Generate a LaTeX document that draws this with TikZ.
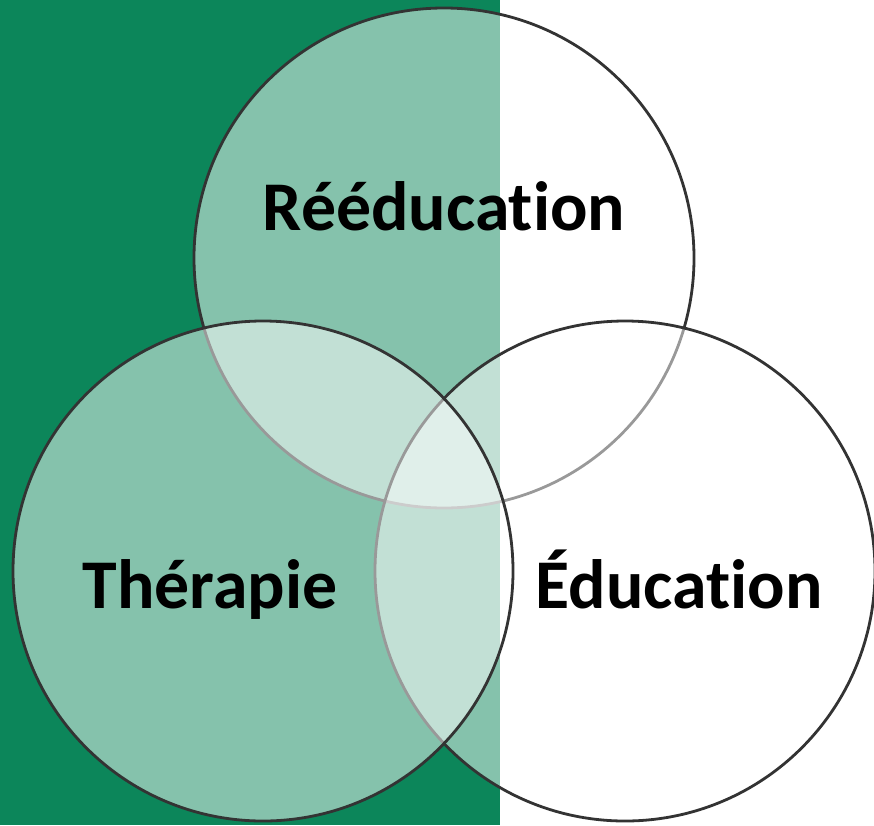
\documentclass[tikz,border=0pt]{standalone}
\usepackage{fontspec}
\setmainfont{Carlito}[Ligatures={NoCommon}]
\definecolor{pine}{HTML}{0C865A}
\definecolor{rim}{HTML}{333333}
\begin{document}
\begin{tikzpicture}[x=1pt,y=-1pt,
		ring/.style={draw=rim,line width=2.8pt,fill=white,fill opacity=.5},
		word/.style={anchor=base,text=black,font=\fontsize{69.8}{80}\selectfont\bfseries}]
		\useasboundingbox (0,0) rectangle (874,825);
		\fill [pine] (0,0) rectangle (500,825);
		% top, right, left -- later fills cover earlier rims
		\draw [ring] (444,258) circle [radius=250];
		\draw [ring] (625,571) circle [radius=250];
		\draw [ring] (263,571) circle [radius=250];
		\node [word] (reed) at (444,230) {Rééducation};
		\node [word] (ther) at (210,608) {Thérapie};
		\node [word] (educ) at (679,608) {Éducation};
	\end{tikzpicture}
\end{document}
